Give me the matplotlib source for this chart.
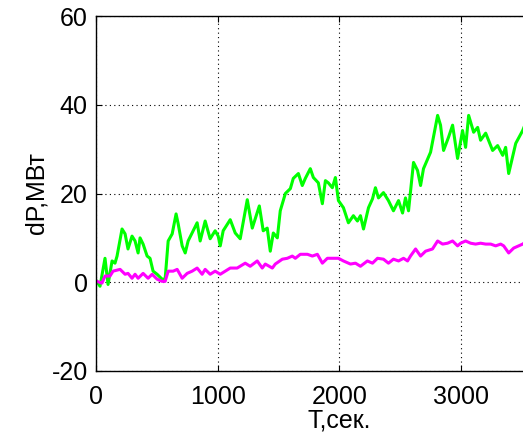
import numpy as np
import matplotlib
matplotlib.use("Agg")
import matplotlib.pyplot as plt

# green curve (T, dP)
t_green = [6, 33, 74, 99, 132, 156, 173, 214, 239, 263, 296, 321, 346, 362, 387,
           420, 444, 469, 502, 543, 568, 593, 626, 658, 675, 708, 733, 757, 831,
           856, 897, 938, 979, 1004, 1021, 1045, 1103, 1144, 1185, 1243, 1284,
           1342, 1374, 1407, 1432, 1457, 1490, 1514, 1556, 1597, 1621, 1663, 1695,
           1720, 1761, 1786, 1827, 1860, 1885, 1909, 1942, 1967, 1992, 2033, 2074,
           2115, 2148, 2173, 2198, 2239, 2272, 2296, 2321, 2362, 2403, 2444, 2486,
           2519, 2543, 2568, 2609, 2642, 2667, 2691, 2749, 2807, 2831, 2856, 2897,
           2930, 2971, 3012, 3037, 3062, 3103, 3136, 3160, 3202, 3259, 3300, 3342,
           3366, 3391, 3449, 3506, 3540]
p_green = [0.2, -0.9, 5.4, -0.5, 4.8, 4.3, 5.9, 12.0, 10.9, 7.5, 10.4, 9.3, 6.6,
           10.0, 8.6, 5.9, 5.4, 2.5, 1.8, 0.7, 0.7, 9.3, 10.9, 15.4, 13.2, 8.2,
           6.6, 9.3, 13.4, 9.3, 13.8, 9.8, 11.6, 10.4, 8.2, 11.6, 14.1, 11.1, 9.8,
           18.6, 12.2, 17.2, 11.6, 12.2, 7.0, 11.1, 10.0, 16.1, 20.0, 21.1, 23.4,
           24.5, 21.8, 23.4, 25.6, 23.6, 22.4, 17.7, 22.9, 22.4, 21.3, 23.6, 18.4,
           16.8, 13.4, 15.0, 13.8, 15.0, 12.0, 16.8, 18.8, 21.3, 19.0, 20.2, 18.4,
           16.1, 18.4, 15.6, 19.0, 16.1, 27.0, 25.2, 21.8, 25.6, 29.3, 37.6, 35.4,
           29.7, 32.7, 35.4, 27.9, 34.2, 30.4, 37.6, 33.8, 34.9, 32.0, 33.6, 29.7,
           30.8, 28.6, 30.4, 24.5, 31.3, 34.2, 36.5]

# magenta curve (T, dP)
t_mag = [8, 49, 74, 115, 140, 198, 239, 263, 296, 321, 346, 387, 428, 461, 502,
         543, 568, 593, 634, 667, 708, 749, 790, 831, 872, 897, 938, 979, 1021,
         1062, 1103, 1160, 1226, 1267, 1325, 1366, 1391, 1449, 1473, 1531, 1572,
         1613, 1638, 1679, 1737, 1778, 1819, 1860, 1901, 1951, 1992, 2033, 2091,
         2132, 2173, 2230, 2272, 2313, 2362, 2403, 2444, 2486, 2527, 2560, 2584,
         2626, 2667, 2708, 2765, 2807, 2848, 2889, 2930, 2971, 2996, 3037, 3078,
         3119, 3160, 3202, 3243, 3284, 3325, 3350, 3391, 3432, 3473, 3506, 3540]
p_mag = [0.2, -0.2, 1.4, 1.4, 2.5, 2.9, 1.8, 2.0, 0.9, 1.8, 0.9, 2.0, 0.9, 1.8,
         0.7, 0.2, 0.2, 2.5, 2.5, 2.9, 0.9, 2.0, 2.5, 3.2, 1.8, 2.9, 1.8, 2.5,
         1.8, 2.5, 3.2, 3.2, 4.3, 3.6, 4.8, 3.2, 4.1, 3.2, 4.1, 5.2, 5.4, 5.9,
         5.4, 6.3, 6.3, 5.9, 6.3, 4.3, 5.4, 5.4, 5.4, 4.8, 4.1, 4.3, 3.6, 4.8,
         4.3, 5.4, 5.2, 4.3, 5.2, 4.8, 5.4, 4.8, 5.9, 7.5, 5.9, 7.0, 7.5, 9.3,
         8.6, 8.8, 9.3, 8.2, 8.8, 9.3, 8.8, 8.6, 8.8, 8.6, 8.6, 8.2, 8.6, 8.2,
         6.6, 7.7, 8.2, 8.6, 9.3]

x_ticks = [0, 1000, 2000, 3000]
y_ticks = [-20, 0, 20, 40, 60]

plt.rcParams['font.family'] = ['Liberation Sans', 'DejaVu Sans']
plt.rcParams['axes.unicode_minus'] = False

fig = plt.figure(figsize=(5.23, 4.34), dpi=100)
# axes runs past the right edge, like the cropped original
ax = fig.add_axes([96/523, 63/434, 486.8/523, 355/434])

ax.plot(t_green, p_green, color='#00ff00', lw=2.2)
ax.plot(t_mag, p_mag, color='#ff00ff', lw=2.2)

ax.set_xlim(0, 4000)
ax.set_ylim(-20, 60)
ax.set_xticks(x_ticks)
ax.set_yticks(y_ticks)
ax.grid(True, color='black', linestyle=(0, (1, 3)), linewidth=0.8)
ax.tick_params(direction='in', length=4, labelsize=18, top=True, right=True)
ax.tick_params(axis='x', pad=10)
ax.tick_params(axis='y', pad=6)
for s in ax.spines.values():
    s.set_linewidth(1.0)

ax.set_xlabel('T,сек.', fontsize=18, labelpad=0)
ax.set_ylabel('dP,МВт', fontsize=18, labelpad=2)

fig.savefig('out.png', dpi=100)
